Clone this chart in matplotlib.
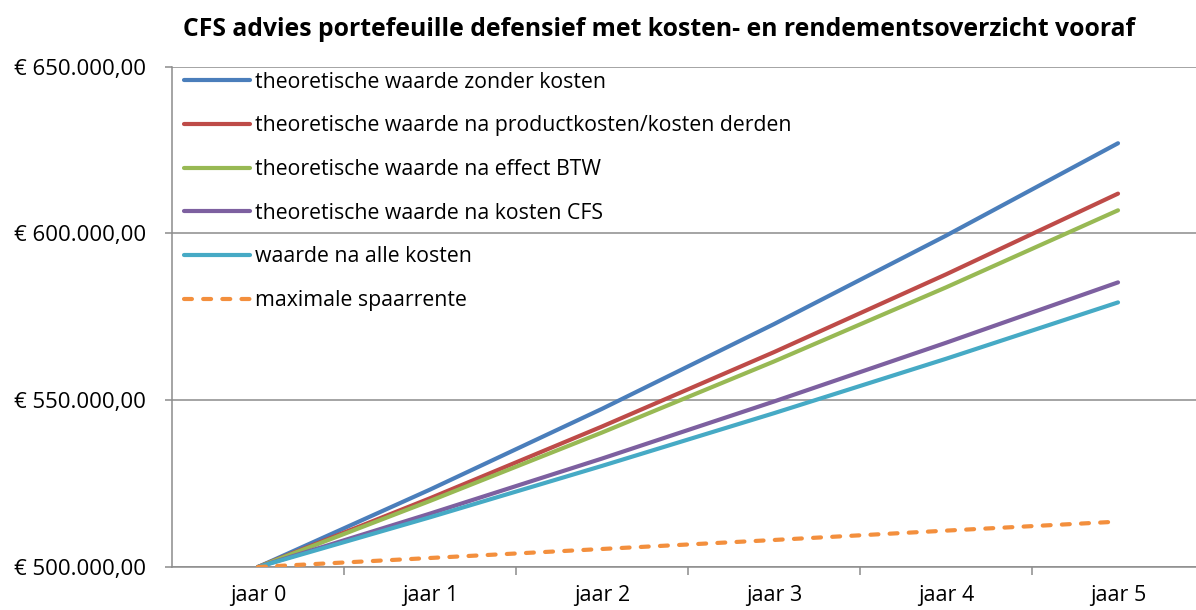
import matplotlib
matplotlib.use("Agg")
import matplotlib.pyplot as plt
from matplotlib.ticker import FuncFormatter, FixedLocator

plt.rcParams['font.family'] = ['Open Sans', 'DejaVu Sans']

categories = ["jaar 0", "jaar 1", "jaar 2", "jaar 3", "jaar 4", "jaar 5"]
zonder_kosten = [500000, 523200, 547400, 572800, 599300, 627000]
na_productkosten = [500000, 520600, 542100, 564400, 587700, 611900]
na_btw = [500000, 519800, 540300, 561600, 583800, 606900]
na_kosten_cfs = [500000, 516000, 532500, 549600, 567200, 585300]
na_alle_kosten = [500000, 514900, 530300, 546100, 562400, 579300]
spaarrente = [500000, 502700, 505400, 508100, 510900, 513600]

labels = [
    "theoretische waarde zonder kosten",
    "theoretische waarde na productkosten/kosten derden",
    "theoretische waarde na effect BTW",
    "theoretische waarde na kosten CFS",
    "waarde na alle kosten",
    "maximale spaarrente",
]
series = [zonder_kosten, na_productkosten, na_btw, na_kosten_cfs, na_alle_kosten, spaarrente]
colors = ["#4A7EBB", "#BE4B48", "#98B954", "#7D60A0", "#46AAC5", "#F38F3D"]

fig = plt.figure(figsize=(11.96, 6.10), dpi=100)
ax = fig.add_axes([172/1196, 1 - 567/610, 1032/1196, (567 - 66.5)/610])

x = list(range(len(categories)))
for i, (vals, lab, col) in enumerate(zip(series, labels, colors)):
    if i == 5:
        ax.plot(x, vals, color=col, lw=3.0, ls=(0, (1.9, 2.7)), dash_capstyle='round',
                solid_capstyle='round', label=lab, zorder=3)
    else:
        ax.plot(x, vals, color=col, lw=3.0, solid_capstyle='round', label=lab, zorder=3)

ax.set_xlim(-0.5, 5.5)
ax.set_ylim(500000, 650000)
ax.set_yticks([500000, 550000, 600000, 650000])

def fmt(v, pos):
    s = f"{v:,.2f}".replace(",", "X").replace(".", ",").replace("X", ".")
    return "€ " + s

ax.yaxis.set_major_formatter(FuncFormatter(fmt))
ax.set_xticks(x)
ax.set_xticklabels(categories)
ax.xaxis.set_minor_locator(FixedLocator([0.5, 1.5, 2.5, 3.5, 4.5, 5.5]))
ax.tick_params(axis='x', which='major', length=0, pad=13, labelsize=15.5, colors='#000000')
ax.tick_params(axis='x', which='minor', length=6, width=1.1, color='#8C8C8C', direction='out')
ax.tick_params(axis='y', which='major', length=5, width=1.1, color='#8C8C8C', direction='out',
               pad=13.5, labelsize=16)

ax.grid(axis='y', color='#8C8C8C', lw=1.1)
ax.set_axisbelow(True)
for s in ['top', 'right']:
    ax.spines[s].set_visible(False)
for s in ['left', 'bottom']:
    ax.spines[s].set_color('#8C8C8C')
    ax.spines[s].set_linewidth(1.1)

leg = ax.legend(loc='upper left', bbox_to_anchor=(12/1032, 0.99), frameon=False, fontsize=15.3,
                handlelength=3.1, handletextpad=0.25, labelspacing=1.07, borderaxespad=0.0,
                borderpad=0.0)

fig.text(659/1196, 1 - 29/610, "CFS advies portefeuille defensief met kosten- en rendementsoverzicht vooraf",
         ha='center', va='center', fontsize=17.8, fontweight='bold')

fig.savefig("out.png", dpi=100)
